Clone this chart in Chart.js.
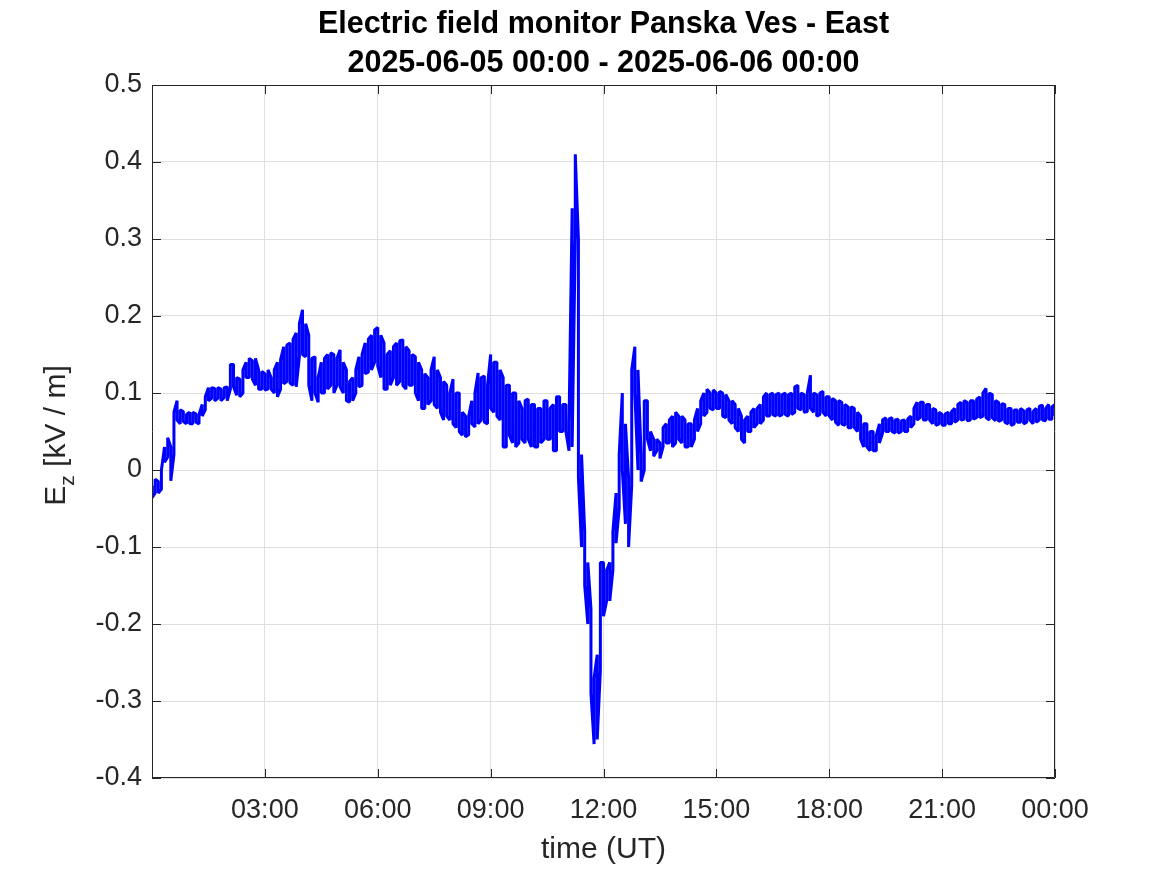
<!DOCTYPE html>
<html>
<head>
<meta charset="utf-8">
<title>Electric field monitor Panska Ves - East</title>
<script src="https://cdn.jsdelivr.net/npm/chart.js@4.4.1/dist/chart.umd.min.js"></script>
<style>
  body { margin: 0; background: #fff; }
  canvas { display: block; }
</style>
</head>
<body>
<canvas id="chart" width="1167" height="875"></canvas>
<script>
//Chart data: upper and lower edge of the noisy trace, one pair every 5 minutes
const titleLines = ["Electric field monitor Panska Ves - East", "2025-06-05 00:00 - 2025-06-06 00:00"];
const sampleStepMinutes = 5;
const fieldUpper = [
  -0.02, -0.012, -0.015, 0.0, 0.03, 0.042, 0.03, 0.075, 0.09, 0.078, 0.076, 0.072,
  0.075, 0.075, 0.073, 0.072, 0.085, 0.095, 0.107, 0.107, 0.106, 0.107, 0.105, 0.107,
  0.108, 0.137, 0.137, 0.12, 0.118, 0.13, 0.14, 0.145, 0.142, 0.145, 0.13, 0.128,
  0.125, 0.13, 0.12, 0.13, 0.14, 0.143, 0.16, 0.162, 0.165, 0.17, 0.178, 0.19,
  0.208, 0.19, 0.175, 0.145, 0.147, 0.12, 0.14, 0.145, 0.15, 0.152, 0.15, 0.145,
  0.156, 0.14, 0.13, 0.115, 0.12, 0.13, 0.147, 0.15, 0.165, 0.17, 0.175, 0.182,
  0.185, 0.175, 0.165, 0.15, 0.155, 0.16, 0.165, 0.168, 0.169, 0.16, 0.155, 0.15,
  0.147, 0.14, 0.13, 0.125, 0.12, 0.13, 0.147, 0.13, 0.12, 0.115, 0.11, 0.1,
  0.118, 0.1, 0.1, 0.075, 0.07, 0.07, 0.09, 0.1, 0.126, 0.12, 0.122, 0.11,
  0.15, 0.14, 0.14, 0.13, 0.12, 0.11, 0.11, 0.1, 0.1, 0.09, 0.08, 0.09,
  0.092, 0.085, 0.085, 0.08, 0.08, 0.09, 0.09, 0.08, 0.085, 0.095, 0.095, 0.085,
  0.085, 0.06, 0.34, 0.41, 0.3, 0.02, -0.08, -0.12, -0.18, -0.27, -0.24, -0.12,
  -0.12, -0.13, -0.12, -0.08, -0.03, 0.02, 0.1, 0.06, -0.01, 0.13, 0.16, 0.13,
  0.02, 0.09, 0.09, 0.05, 0.04, 0.04, 0.035, 0.055, 0.06, 0.065, 0.07, 0.075,
  0.07, 0.07, 0.065, 0.06, 0.06, 0.065, 0.08, 0.09, 0.1, 0.105, 0.1, 0.104,
  0.1, 0.102, 0.1, 0.098, 0.09, 0.09, 0.085, 0.08, 0.07, 0.065, 0.07, 0.075,
  0.08, 0.08, 0.085, 0.095, 0.1, 0.098, 0.1, 0.098, 0.1, 0.098, 0.1, 0.098,
  0.1, 0.108, 0.11, 0.1, 0.098, 0.1, 0.123, 0.1, 0.098, 0.1, 0.102, 0.095,
  0.095, 0.093, 0.09, 0.09, 0.088, 0.085, 0.082, 0.082, 0.08, 0.075, 0.07, 0.06,
  0.06, 0.05, 0.05, 0.045, 0.06, 0.065, 0.068, 0.066, 0.068, 0.065, 0.066, 0.064,
  0.065, 0.066, 0.07, 0.08, 0.088, 0.088, 0.088, 0.085, 0.085, 0.08, 0.078, 0.075,
  0.072, 0.073, 0.075, 0.076, 0.08, 0.085, 0.088, 0.09, 0.088, 0.09, 0.09, 0.092,
  0.095, 0.1, 0.106, 0.1, 0.098, 0.09, 0.088, 0.086, 0.085, 0.08, 0.08, 0.078,
  0.078, 0.08, 0.077, 0.078, 0.08, 0.076, 0.08, 0.083, 0.084, 0.08, 0.085, 0.082,
  0.085
];
const fieldLower = [
  -0.036, -0.03, -0.03, -0.025, 0.01, 0.017, -0.014, 0.02, 0.065, 0.06, 0.063, 0.06,
  0.06, 0.06, 0.062, 0.06, 0.07, 0.078, 0.09, 0.093, 0.09, 0.093, 0.09, 0.094,
  0.09, 0.105, 0.108, 0.097, 0.095, 0.1, 0.12, 0.12, 0.118, 0.11, 0.105, 0.105,
  0.104, 0.105, 0.105, 0.1, 0.095, 0.105, 0.112, 0.115, 0.113, 0.11, 0.108, 0.147,
  0.15, 0.147, 0.11, 0.09, 0.1, 0.088, 0.1, 0.1, 0.105, 0.11, 0.1, 0.11,
  0.108, 0.1, 0.09, 0.088, 0.09, 0.1, 0.108, 0.11, 0.125, 0.127, 0.13, 0.14,
  0.135, 0.12, 0.105, 0.105, 0.11, 0.12, 0.11, 0.115, 0.11, 0.105, 0.11, 0.11,
  0.1, 0.09, 0.08, 0.08, 0.085, 0.09, 0.085, 0.08, 0.075, 0.065, 0.07, 0.065,
  0.06, 0.055, 0.05, 0.045, 0.043, 0.046, 0.06, 0.056, 0.06, 0.065, 0.062, 0.06,
  0.08, 0.075, 0.07, 0.065, 0.03, 0.03, 0.045, 0.035, 0.03, 0.035, 0.04, 0.035,
  0.04, 0.03, 0.03, 0.03, 0.035, 0.04, 0.04, 0.04, 0.025, 0.025, 0.05, 0.05,
  0.05, 0.025, 0.03, 0.3, -0.01, -0.1, -0.15, -0.2, -0.29, -0.356, -0.35, -0.26,
  -0.19, -0.17, -0.17, -0.13, -0.095, -0.05, 0.0, -0.07, -0.1, -0.02, 0.1, 0.0,
  -0.015, 0.0, 0.04, 0.025, 0.018, 0.025, 0.015, 0.03, 0.035, 0.035, 0.03, 0.035,
  0.04, 0.035, 0.03, 0.03, 0.03, 0.04, 0.05, 0.06, 0.07, 0.075, 0.08, 0.078,
  0.08, 0.08, 0.07, 0.068, 0.065, 0.06, 0.055, 0.05, 0.04, 0.035, 0.05, 0.05,
  0.055, 0.06, 0.06, 0.065, 0.07, 0.07, 0.072, 0.07, 0.07, 0.072, 0.072, 0.07,
  0.072, 0.075, 0.08, 0.078, 0.075, 0.076, 0.08, 0.075, 0.07, 0.072, 0.075, 0.07,
  0.07, 0.065, 0.062, 0.058, 0.06, 0.058, 0.055, 0.055, 0.055, 0.05, 0.04, 0.03,
  0.03, 0.025, 0.025, 0.025, 0.035, 0.048, 0.05, 0.05, 0.05, 0.048, 0.048, 0.05,
  0.05, 0.05, 0.055, 0.06, 0.065, 0.068, 0.065, 0.065, 0.065, 0.06, 0.058, 0.06,
  0.058, 0.058, 0.06, 0.06, 0.062, 0.065, 0.065, 0.066, 0.064, 0.065, 0.066, 0.068,
  0.068, 0.07, 0.068, 0.065, 0.068, 0.064, 0.063, 0.065, 0.062, 0.06, 0.058, 0.06,
  0.062, 0.062, 0.06, 0.062, 0.065, 0.06, 0.062, 0.065, 0.065, 0.064, 0.066, 0.066,
  0.07
];
const timeMinutes = fieldUpper.map((_, i) => i * sampleStepMinutes);
const xTickLabels = ["", "03:00", "06:00", "09:00", "12:00", "15:00", "18:00", "21:00", "00:00"];
const yTickLabels = ["-0.4", "-0.3", "-0.2", "-0.1", "0", "0.1", "0.2", "0.3", "0.4", "0.5"];

const FONT = "'Liberation Sans', Arial, Helvetica, sans-serif";
const AXIS_COLOR = "#262626";

//Trace points: each sample is a short vertical stroke between its lower and upper edge
const tracePoints = [];
timeMinutes.forEach((t, i) => {
  const a = { x: t, y: fieldUpper[i] };
  const b = { x: t, y: fieldLower[i] };
  if (i % 2 === 0) tracePoints.push(a, b);
  else tracePoints.push(b, a);
});

//Title, box round the plot area, inward ticks on all four sides, y axis title with subscript
const framePlugin = {
  id: "frame",
  afterDatasetsDraw(chart) {
    const { ctx, chartArea: a, scales } = chart;
    const tickLen = 9;
    ctx.save();
    ctx.strokeStyle = AXIS_COLOR;
    ctx.lineWidth = 1;
    ctx.beginPath();
    ctx.rect(Math.round(a.left) + 0.5, Math.round(a.top) + 0.5,
      Math.round(a.right - a.left) - 1, Math.round(a.bottom - a.top) - 1);
    scales.x.ticks.forEach((t) => {
      const px = Math.round(scales.x.getPixelForValue(t.value)) + 0.5;
      ctx.moveTo(px, a.bottom); ctx.lineTo(px, a.bottom - tickLen);
      ctx.moveTo(px, a.top); ctx.lineTo(px, a.top + tickLen);
    });
    scales.y.ticks.forEach((t) => {
      const py = Math.round(scales.y.getPixelForValue(t.value)) + 0.5;
      ctx.moveTo(a.left, py); ctx.lineTo(a.left + tickLen, py);
      ctx.moveTo(a.right, py); ctx.lineTo(a.right - tickLen, py);
    });
    ctx.stroke();

    //chart title, centred over the plot area
    ctx.fillStyle = "#000";
    ctx.textAlign = "center";
    ctx.textBaseline = "middle";
    ctx.font = "bold 30.5px " + FONT;
    const cx = (a.left + a.right) / 2;
    ctx.fillText(titleLines[0], cx, 25);
    ctx.fillText(titleLines[1], cx, 64);

    //y axis title: E_z [kV / m]
    const big = "30px " + FONT;
    const small = "21px " + FONT;
    ctx.fillStyle = AXIS_COLOR;
    ctx.textAlign = "left";
    ctx.font = big;
    const wE = ctx.measureText("E").width;
    const wRest = ctx.measureText(" [kV / m]").width;
    ctx.font = small;
    const wZ = ctx.measureText("z").width;
    const total = wE + wZ + wRest;
    ctx.translate(57, (a.top + a.bottom) / 2 + 4);
    ctx.rotate(-Math.PI / 2);
    let x = -total / 2;
    ctx.font = big;
    ctx.fillText("E", x, 0);
    x += wE;
    ctx.font = small;
    ctx.fillText("z", x, 11);
    x += wZ;
    ctx.font = big;
    ctx.fillText(" [kV / m]", x, 0);
    ctx.restore();
  },
};

const config = {
  type: "line",
  data: {
    datasets: [
      {
        label: "Ez",
        data: tracePoints,
        borderColor: "#0000ff",
        borderWidth: 3,
        borderJoinStyle: "bevel",
        pointRadius: 0,
        tension: 0,
        fill: false,
      },
    ],
  },
  options: {
    responsive: false,
    animation: false,
    devicePixelRatio: 1,
    layout: { padding: { left: 0, right: 112, top: 85, bottom: 0 } },
    plugins: {
      legend: { display: false },
      tooltip: { enabled: false },
      title: { display: false },
    },
    scales: {
      x: {
        type: "linear",
        min: 0,
        max: 1440,
        grid: { color: "#dfdfdf", drawTicks: false },
        border: { display: false },
        ticks: {
          stepSize: 180,
          autoSkip: false,
          maxRotation: 0,
          padding: 16,
          color: AXIS_COLOR,
          font: { family: FONT, size: 27 },
          callback: (v) => xTickLabels[Math.round(v / 180)],
        },
        title: {
          display: true,
          text: "time (UT)",
          color: AXIS_COLOR,
          font: { family: FONT, size: 30 },
          padding: { top: 0, bottom: 7 },
        },
        afterFit: (scale) => { scale.height = 97; },
      },
      y: {
        min: -0.4,
        max: 0.5,
        grid: { color: "#dfdfdf", drawTicks: false },
        border: { display: false },
        ticks: {
          stepSize: 0.1,
          padding: 10,
          color: AXIS_COLOR,
          font: { family: FONT, size: 27 },
          callback: (v) => yTickLabels[Math.round((v + 0.4) * 10)],
        },
        afterFit: (scale) => { scale.width = 152; },
      },
    },
  },
  plugins: [framePlugin],
};

new Chart(document.getElementById("chart").getContext("2d"), config);
</script>
</body>
</html>
